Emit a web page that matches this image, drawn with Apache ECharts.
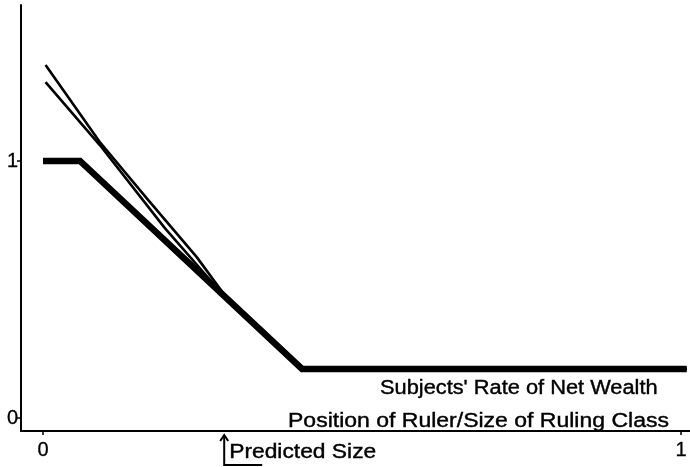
<!DOCTYPE html>
<html>
<head>
<meta charset="utf-8">
<script src="https://cdn.jsdelivr.net/npm/echarts@6/dist/echarts.min.js"></script>
<style>
  html, body { margin: 0; padding: 0; background: #fff; }
  #chart { width: 690px; height: 467px; }
</style>
</head>
<body>
<div id="chart"></div>
<script>
"use strict";

// points (x = position of ruler / size of ruling class)
var wealthRate = [[0, 1], [0.058, 1], [0.406, 0.191], [1.009, 0.191]];
var upperCurve = [[0.004, 1.374], [0.089, 1.074], [0.165, 0.848], [0.241, 0.626], [0.29, 0.46], [0.406, 0.191], [1.009, 0.191]];
var lowerCurve = [[0.004, 1.307], [0.089, 1.062], [0.191, 0.739], [0.262, 0.537], [0.29, 0.46], [0.406, 0.191], [1.009, 0.191]];
var xTicks = [0, 1];
var yTicks = [0, 1];
var predictedSize = 0.284;

var font = '"Liberation Sans", Arial, sans-serif';
var chart = echarts.init(document.getElementById('chart'));

var option = {
  animation: false,
  backgroundColor: '#ffffff',
  grid: { left: 21, right: 0, top: 5, bottom: 36 },
  xAxis: {
    type: 'value',
    min: -0.0345,
    max: 1.0141,
    splitLine: { show: false },
    axisLine: { onZero: false, lineStyle: { color: '#000', width: 2 } },
    axisTick: { customValues: xTicks, length: 4, lineStyle: { color: '#000', width: 1.5 } },
    axisLabel: {
      customValues: xTicks, color: '#000', fontSize: 20, fontFamily: font, margin: 9,
      textBorderColor: '#000', textBorderWidth: 0.3
    }
  },
  yAxis: {
    type: 'value',
    min: -0.0506,
    max: 1.607,
    splitLine: { show: false },
    axisLine: { onZero: false, lineStyle: { color: '#000', width: 2 } },
    axisTick: { customValues: yTicks, length: 4, lineStyle: { color: '#000', width: 1.5 } },
    axisLabel: {
      customValues: yTicks, color: '#000', fontSize: 20, fontFamily: font, margin: 3,
      textBorderColor: '#000', textBorderWidth: 0.3
    }
  },
  series: [
    {
      name: 'Upper',
      type: 'line',
      data: upperCurve,
      showSymbol: false,
      lineStyle: { color: '#000', width: 2.6 }
    },
    {
      name: 'Lower',
      type: 'line',
      data: lowerCurve,
      showSymbol: false,
      lineStyle: { color: '#000', width: 2.6 }
    },
    {
      name: "Subjects' Rate of Net Wealth",
      type: 'line',
      data: wealthRate,
      showSymbol: false,
      lineStyle: { color: '#000', width: 6.5, join: 'miter' }
    }
  ]
};

chart.setOption(option);

// texts are stretched a little wider and heavier, as in the scanned figure
function label(text, x, baseline, sx) {
  return {
    type: 'text', x: x, y: baseline, scaleX: sx,
    style: {
      text: text, fill: '#000', font: '20px ' + font, textVerticalAlign: 'bottom',
      stroke: '#000', lineWidth: 0.4
    }
  };
}

// arrow under the axis that marks the predicted size
var px = chart.convertToPixel({ xAxisIndex: 0 }, predictedSize);
chart.setOption({
  graphic: [
    label("Subjects' Rate of Net Wealth", 380, 398, 1.09),
    label('Position of Ruler/Size of Ruling Class', 288, 431, 1.15),
    label('Predicted Size', px + 5, 462, 1.14),
    {
      type: 'polyline',
      shape: { points: [[px, 436], [px, 465], [px + 38, 465]] },
      style: { stroke: '#000', lineWidth: 2, fill: null }
    },
    {
      type: 'polyline',
      shape: { points: [[px - 4, 441], [px, 435], [px + 4, 441]] },
      style: { stroke: '#000', lineWidth: 2, fill: null }
    }
  ]
});
</script>
</body>
</html>
